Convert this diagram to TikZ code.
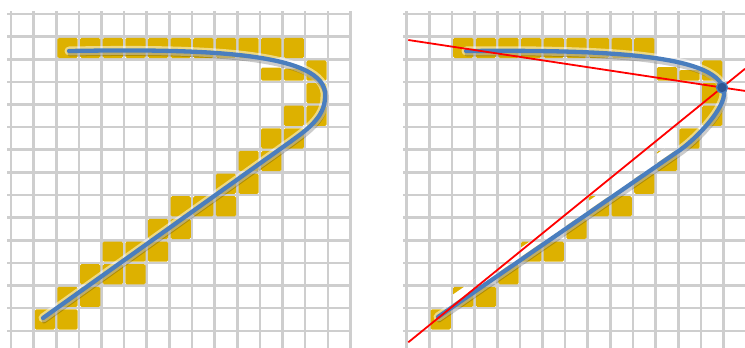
\documentclass[tikz,border=0pt]{standalone}
\definecolor{gridc}{RGB}{206,206,206}
\definecolor{yel}{RGB}{221,177,0}
\definecolor{curveblue}{RGB}{74,126,190}
\definecolor{dotfill}{RGB}{46,86,148}
\tikzset{
  gridline/.style={draw=gridc, line width=2.6pt},
  pix/.style={fill=yel, rounded corners=1.5pt},
  halo/.style={draw=white, line width=9pt, opacity=0.5, line cap=round},
  shadowline/.style={draw=black, opacity=0.2, line width=5pt, line cap=round},
  curve/.style={draw=curveblue, line width=4.3pt, line cap=round},
  redline/.style={draw=red, line width=1.8pt},
  dotstyle/.style={circle, fill=dotfill, draw=curveblue, line width=1.3pt, minimum size=11pt, inner sep=0pt}
}
\begin{document}
\begin{tikzpicture}[x=1pt,y=-1pt]
\useasboundingbox (0,0) rectangle (745,348);
\fill[white] (0,0) rectangle (745,348);
\def\gs{22.63}
% ---------- grids ----------
\foreach \k in {0,...,15} \draw[gridline] ({11+\gs*\k},11) -- ({11+\gs*\k},348);
\foreach \j in {0,...,14} \draw[gridline] (7,{14+\gs*\j}) -- (352,{14+\gs*\j});
\foreach \k in {0,...,14} \draw[gridline] ({406.7+\gs*\k},11) -- ({406.7+\gs*\k},348);
\foreach \j in {0,...,14} \draw[gridline] (403,{14+\gs*\j}) -- (745,{14+\gs*\j});
% ---------- left pixels ----------
\foreach \i/\j in {2/1,3/1,4/1,5/1,6/1,7/1,8/1,9/1,10/1,11/1,12/1,
  13/2,13/3,12/4,13/4,11/5,12/5,10/6,11/6,9/7,10/7,7/8,8/8,9/8,
  6/9,7/9,4/10,5/10,6/10,3/11,4/11,5/11,2/12,3/12,1/13,2/13}
  \fill[pix] ({11+\gs*\i+1.2},{14+\gs*\j+1.2}) rectangle ({11+\gs*(\i+1)-1.2},{14+\gs*(\j+1)-1.2});
\fill[pix] ({11+\gs*11+1.2},67.5) rectangle ({11+\gs*12-1.2},{14+\gs*3-1.2});
\fill[pix] ({11+\gs*12+1.2},68.5) rectangle ({11+\gs*13-1.2},{14+\gs*3-1.2});
% ---------- right pixels ----------
\foreach \i/\j in {2/1,3/1,4/1,5/1,6/1,7/1,8/1,9/1,10/1,
  13/2,13/3,13/4,12/5,11/6,10/7,8/8,9/8,7/9,5/10,6/10,4/11,2/12,3/12,1/13}
  \fill[pix] ({406.7+\gs*\i+1.2},{14+\gs*\j+1.2}) rectangle ({406.7+\gs*(\i+1)-1.2},{14+\gs*(\j+1)-1.2});
\fill[pix] ({406.7+\gs*11+1.2},67) rectangle ({406.7+\gs*12-1.2},{14+\gs*3-1.2});
\fill[pix] ({406.7+\gs*12+1.2},70) rectangle ({406.7+\gs*13-1.2},{14+\gs*3-1.2});
% ---------- halos ----------
\draw[halo] (69,51) .. controls (190,49) and (330,50) .. (325,97)
  .. controls (325,118) and (305,131) .. (290,142) -- (43,318);
\draw[halo] (466,51) .. controls (590,50) and (728,52) .. (724,95)
  .. controls (722,112) and (695,139.5) .. (680,150) -- (438,317);
% white band on the inner side of the right diagonal
\begin{scope}
  \clip (446.6,308.0) -- (678.6,147.9) -- (674.3,141.8) -- (442.3,301.9) -- cycle;
  \fill[white] (400,100) rectangle (745,348);
  \foreach \k in {0,...,14} \draw[gridline] ({406.7+\gs*\k},11) -- ({406.7+\gs*\k},348);
  \foreach \j in {0,...,14} \draw[gridline] (403,{14+\gs*\j}) -- (745,{14+\gs*\j});
\end{scope}
% ---------- shadows ----------
\begin{scope}[shift={(1,3)}]
\draw[shadowline] (69,51) .. controls (190,49) and (330,50) .. (325,97)
  .. controls (325,118) and (305,131) .. (290,142) -- (43,318);
\draw[shadowline] (466,51) .. controls (590,50) and (728,52) .. (724,95)
  .. controls (722,112) and (695,139.5) .. (680,150) -- (438,317);
\end{scope}
% ---------- curves ----------
\draw[curve] (69,51) .. controls (190,49) and (330,50) .. (325,97)
  .. controls (325,118) and (305,131) .. (290,142) -- (43,318);
\draw[curve] (466,51) .. controls (590,50) and (728,52) .. (724,95)
  .. controls (722,112) and (695,139.5) .. (680,150) -- (438,317);
% ---------- red lines and dot ----------
\coordinate (dotc) at (722,87.5);
\coordinate (r1a) at (408.3,40);
\coordinate (r1b) at (745,90.9);
\coordinate (r2a) at (408.3,342.3);
\coordinate (r2b) at (745,68.8);
\draw[redline] (r1a) -- (dotc) -- (r1b);
\draw[redline] (r2a) -- (dotc) -- (r2b);
\node[dotstyle] (dot) at (dotc) {};
\end{tikzpicture}
\end{document}
